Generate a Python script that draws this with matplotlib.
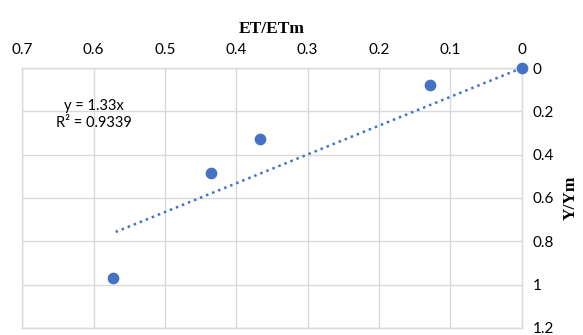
import matplotlib.pyplot as plt
import numpy as np

# relative evapotranspiration vs relative yield
et_ratio = [0.0, 0.129, 0.367, 0.436, 0.573]
yield_ratio = [0.0, 0.079, 0.329, 0.486, 0.968]
slope = 1.33
r2 = 0.9339

x_ticks = [0.7, 0.6, 0.5, 0.4, 0.3, 0.2, 0.1, 0]
y_ticks = [0, 0.2, 0.4, 0.6, 0.8, 1, 1.2]

blue = '#4472C4'
grid = '#d9d9d9'

plt.rcParams['font.family'] = ['Lato', 'DejaVu Sans']

fig = plt.figure(figsize=(5.83, 3.35), dpi=100)
ax = fig.add_axes([0.038, 0.021, 0.857, 0.776])

ax.scatter(et_ratio, yield_ratio, s=55, color=blue, zorder=3, clip_on=False)

# linear trend through origin
xt = np.array([0, max(et_ratio)])
ax.plot(xt, slope * xt, linestyle=(0, (1, 1.6)), color=blue, linewidth=1.8, zorder=2)

ax.text(0.60, 0.215, f'y = {slope}x\nR² = {r2}', ha='center', va='center',
        fontsize=10.5, linespacing=1.3)

ax.set_xlim(0.7, 0)
ax.set_ylim(1.2, 0)
ax.set_xticks(x_ticks)
ax.set_xticklabels([f'{v:g}' for v in x_ticks])
ax.set_yticks(y_ticks)
ax.set_yticklabels([f'{v:g}' for v in y_ticks])

ax.xaxis.tick_top()
ax.xaxis.set_label_position('top')
ax.yaxis.tick_right()
ax.yaxis.set_label_position('right')
ax.tick_params(length=0, labelsize=11, pad=8)

ax.set_xlabel('ET/ETm', fontsize=12.5, fontweight='bold', family='Liberation Serif', labelpad=7)
ax.set_ylabel('Y/Ym', fontsize=12.5, fontweight='bold', family='Liberation Serif', labelpad=6)

ax.grid(True, color=grid, linewidth=1)
ax.set_axisbelow(True)
for s in ax.spines.values():
    s.set_color(grid)
    s.set_linewidth(1)

fig.savefig('out.png', dpi=100)
